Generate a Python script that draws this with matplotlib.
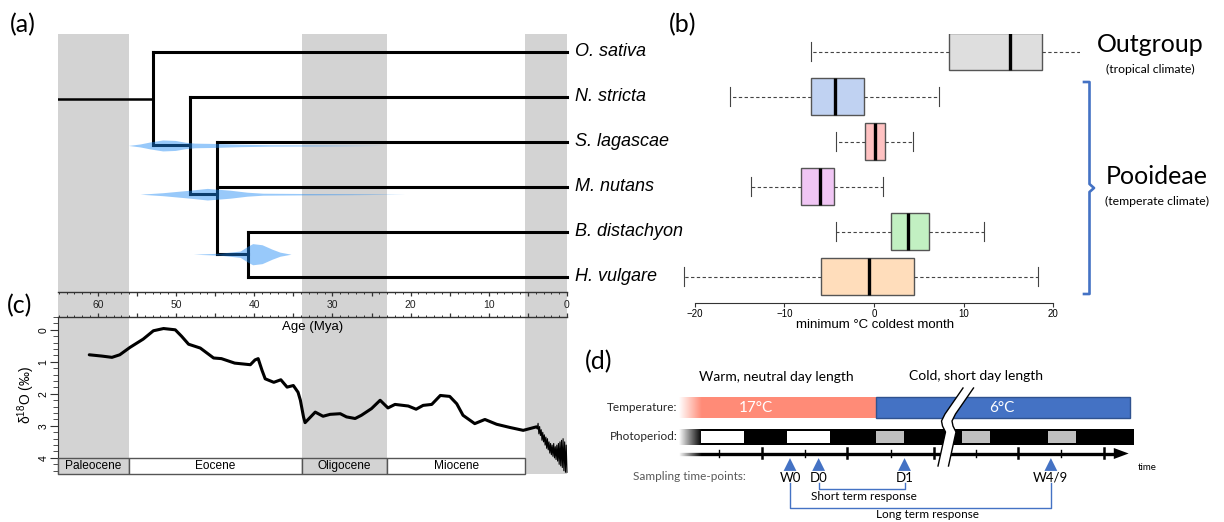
import numpy as np
import matplotlib
matplotlib.use("Agg")
import matplotlib.pyplot as plt
from matplotlib.patches import Rectangle, Polygon

plt.rcParams['font.family'] = ['Liberation Sans', 'DejaVu Sans']

# ======================= DATA =======================
species = ["O. sativa", "N. stricta", "S. lagascae", "M. nutans", "B. distachyon", "H. vulgare"]

# tree: internal node -> (age Mya, children)
tree = {
    "root": (53.0, ["O. sativa", "n1"]),
    "n1": (48.2, ["N. stricta", "n2"]),
    "n2": (44.8, ["S. lagascae", "M. nutans", "n3"]),
    "n3": (40.8, ["B. distachyon", "H. vulgare"]),
}
root_origin_age = 65.1

# node-age posterior densities (age Mya, half width in tip-row units)
dens_n1_age = [56.1, 54.6, 53.3, 51.7, 50.1, 48.8, 47.6, 45.0, 41.8, 38.0, 31.6, 23.5]
dens_n1_hw = [0.0, 0.033, 0.078, 0.122, 0.111, 0.071, 0.051, 0.044, 0.027, 0.016, 0.011, 0.0]
dens_n2_age = [54.6, 51.7, 48.2, 46.0, 43.1, 40.9, 38.9, 34.1, 27.7, 20.7]
dens_n2_hw = [0.0, 0.033, 0.089, 0.129, 0.089, 0.044, 0.022, 0.016, 0.011, 0.0]
dens_n3_age = [47.8, 44.4, 41.8, 40.8, 40.2, 39.0, 37.7, 36.7, 35.3]
dens_n3_hw = [0.0, 0.022, 0.07, 0.18, 0.235, 0.21, 0.11, 0.045, 0.0]

# geological epochs
epochs = ["Paleocene", "Eocene", "Oligocene", "Miocene"]
epoch_start = [65.1, 56.0, 33.9, 23.03]
epoch_end = [56.0, 33.9, 23.03, 5.33]
epoch_shaded = [True, False, True, False]
grey_bands = [(65.1, 56.0), (33.9, 23.03), (5.33, 0.0)]
ruler_labels = [60, 50, 40, 30, 20, 10, 0]

# benthic delta 18O curve (age Mya, permil)
d18O_age = [61.1, 59.5, 58.2, 57.2, 55.9, 54.2, 52.9, 51.6, 50.1, 49.3, 48.4, 46.9,
            45.2, 44.2, 42.5, 40.5, 39.9, 39.5, 39.0, 38.6, 37.5, 36.6, 35.8, 35.0,
            34.4, 34.1, 33.7, 33.5, 32.2, 31.2, 30.3, 29.0, 28.2, 27.1, 26.3, 25.0,
            23.9, 22.9, 22.0, 20.3, 19.3, 18.4, 17.3, 16.2, 15.0, 14.1, 13.3, 11.8,
            10.5, 9.0, 7.3, 5.6, 3.9]
d18O_val = [0.78, 0.82, 0.86, 0.78, 0.55, 0.29, 0.03, -0.04, 0.0, 0.2, 0.45, 0.57,
            0.88, 0.9, 1.04, 1.09, 0.94, 0.9, 1.27, 1.53, 1.64, 1.56, 1.79, 1.74,
            1.95, 2.2, 2.72, 2.9, 2.57, 2.7, 2.64, 2.62, 2.72, 2.77, 2.67, 2.46,
            2.2, 2.44, 2.33, 2.38, 2.48, 2.36, 2.33, 2.05, 2.08, 2.31, 2.67, 2.93,
            2.8, 2.95, 3.05, 3.14, 3.03]
# glacial cycles (last ~4 Myr)
pleist_age = [3.9, 3.8, 3.7, 3.6, 3.5, 3.4, 3.3, 3.2, 3.1, 3.0, 2.9, 2.8, 2.7, 2.6,
              2.5, 2.4, 2.3, 2.2, 2.1, 2.0, 1.9, 1.8, 1.7, 1.6, 1.5, 1.4, 1.3, 1.2,
              1.1, 1.0, 0.9, 0.8, 0.7, 0.6, 0.5, 0.4, 0.3, 0.2, 0.1, 0.0]
pleist_val = [3.03, 3.10, 2.92, 3.25, 3.02, 3.30, 3.12, 3.45, 3.20, 3.50, 3.28, 3.60,
              3.35, 3.70, 3.40, 3.75, 3.50, 3.85, 3.55, 3.90, 3.60, 3.95, 3.55, 4.00,
              3.65, 4.05, 3.60, 4.10, 3.55, 4.20, 3.50, 4.25, 3.45, 4.30, 3.40, 4.40,
              3.50, 4.45, 3.60, 4.45]

# climate niche: minimum temperature of coldest month (°C)
box_whislo = [-7.0, -16.0, -4.2, -13.7, -4.2, -21.2]
box_q1 = [8.4, -7.0, -0.96, -8.1, 1.93, -5.9]
box_med = [15.2, -4.4, 0.07, -6.05, 3.84, -0.56]
box_q3 = [18.7, -1.1, 1.26, -4.46, 6.15, 4.46]
box_whishi = [23.6, 7.2, 4.37, 1.04, 12.3, 18.3]
box_colors = ['#DEDEDE', '#C0D2F2', '#FFC2C2', '#F0C6F4', '#C2F0C2', '#FFDDBB']

# experimental design (time in hours)
temp_phases = ["17°C", "6°C"]
temp_start = [0.0, 55.7]
temp_end = [55.7, 127.6]
temp_label_h = [21.8, 91.4]
temp_colors = ['#FF8B77', '#4472C4']
light_start = [6.2, 30.6, 55.7, 80.0, 104.4]
light_len = [12.2, 12.0, 8.0, 8.0, 7.8]
light_colors = ['white', 'white', '#BFBFBF', '#BFBFBF', '#BFBFBF']
tick_hours = [11.4, 23.6, 35.6, 47.6, 60.0, 72.0, 84.0, 96.0, 108.0, 120.1]
sample_names = ["W0", "D0", "D1", "W4/9"]
sample_hours = [31.4, 39.5, 63.8, 105.2]

# ======================= FIGURE =======================
W, H = 1224, 522
fig = plt.figure(figsize=(W / 100, H / 100), dpi=100)


def add_ax(l, t, r, b, z=1):
    ax = fig.add_axes([l / W, 1 - b / H, (r - l) / W, (b - t) / H], zorder=z)
    ax.patch.set_alpha(0)
    return ax


BAND = '#D3D3D3'
AGE_MAX = root_origin_age

# --- background bands (a + c) ---
ax_bg = add_ax(58, 34, 567, 474, z=0)
ax_bg.set_xlim(AGE_MAX, 0)
ax_bg.set_ylim(0, 1)
ax_bg.axis('off')
for a0, a1 in grey_bands:
    ax_bg.axvspan(a0, a1, color=BAND, lw=0)

# --- panel a: tree ---
ax_a = add_ax(58, 34, 567, 292, z=2)
ax_a.set_xlim(AGE_MAX, 0)
ax_a.set_ylim(5 + (292 - 276.7) / 45, (34 - 51.7) / 45)
ax_a.axis('off')
LW = 2.2
tip_y = {s: i for i, s in enumerate(species)}
node_y = {}


def layout(name):
    if name in tip_y:
        return tip_y[name], 0.0
    age, kids = tree[name]
    ys = []
    for k in kids:
        ky, kage = layout(k)
        ax_a.plot([age, kage], [ky, ky], color='k', lw=LW, solid_capstyle='projecting',
                  clip_on=False, zorder=2)
        ys.append(ky)
    ax_a.plot([age, age], [min(ys), max(ys)], color='k', lw=LW,
              solid_capstyle='projecting', zorder=2)
    y = float(np.mean(ys))
    node_y[name] = y
    return y, age


ry, rage = layout("root")
ax_a.plot([root_origin_age, rage], [ry, ry], color='k', lw=1.8, zorder=2)

vcol = (0.111, 0.533, 0.956)
for nm, ages, hws in [("n1", dens_n1_age, dens_n1_hw), ("n2", dens_n2_age, dens_n2_hw),
                      ("n3", dens_n3_age, dens_n3_hw)]:
    y = node_y[nm]
    ax_a.fill_between(ages, y - np.array(hws), y + np.array(hws), color=vcol,
                      alpha=0.45, lw=0, zorder=3)

for i, s in enumerate(species):
    ax_a.text(-1.0, i, s, style='italic', fontsize=13, va='center', ha='left',
              clip_on=False)

# --- ruler ---
ax_r = add_ax(58, 292, 567, 317, z=2)
ax_r.set_xlim(AGE_MAX, 0)
ax_r.set_ylim(0, 1)
ax_r.set_yticks([])
ax_r.spines['left'].set_visible(False)
ax_r.spines['right'].set_visible(False)
for sp in ['top', 'bottom']:
    ax_r.spines[sp].set_linewidth(1.0)
    ax_r.spines[sp].set_color('#333333')
ax_r.set_xticks(np.arange(0, 61, 5))
ax_r.set_xticks(np.arange(0, 66, 1), minor=True)
ax_r.tick_params(axis='x', which='both', direction='in', top=True, bottom=True,
                 labelbottom=False, color='#333333')
ax_r.tick_params(axis='x', which='major', length=3.2, width=0.9)
ax_r.tick_params(axis='x', which='minor', length=1.6, width=0.7)
for a in ruler_labels:
    ax_r.text(a, 0.5, str(a), ha='center', va='center', fontsize=7.5, color='#222222')

# --- panel c ---
ax_c = add_ax(58, 317, 567, 474, z=2)
ax_c.set_xlim(AGE_MAX, 0)
ax_c.set_ylim(4.503, -0.373)
for sp in ['top', 'right', 'bottom']:
    ax_c.spines[sp].set_visible(False)
ax_c.spines['left'].set_color('#333333')
ax_c.set_xticks([])
ax_c.set_yticks([0, 1, 2, 3, 4])
ax_c.set_yticks(np.arange(-0.4, 4.45, 0.2), minor=True)
ax_c.tick_params(axis='y', which='major', length=5.5, direction='out', labelsize=7.5,
                 pad=1.5, color='#333333')
ax_c.tick_params(axis='y', which='minor', length=3.5, direction='out', color='#333333')
for lab in ax_c.get_yticklabels():
    lab.set_rotation(90)
    lab.set_va('center')
ax_c.set_ylabel(r'$\mathregular{\delta^{18}O}$ (‰)', fontsize=10, labelpad=1)
ax_c.plot(d18O_age, d18O_val, color='k', lw=2.2, solid_joinstyle='round',
          solid_capstyle='round')
ax_c.plot(pleist_age, pleist_val, color='k', lw=0.8, clip_on=False)
for nm, s0, s1, sh in zip(epochs, epoch_start, epoch_end, epoch_shaded):
    ax_c.add_patch(Rectangle((s0, 4.006), s1 - s0, 4.5 - 4.006,
                             fc=BAND if sh else 'white', ec='#555555', lw=1.0,
                             clip_on=False, zorder=3))
    ax_c.text((s0 + s1) / 2, 4.25, nm, ha='center', va='center', fontsize=8.6, zorder=4)
ax_c.text(32.6, -0.09, 'Age (Mya)', ha='center', va='center', fontsize=9.5)

# --- panel b: boxplots ---
ax_b = add_ax(670, 34, 1080, 303, z=2)
stats = []
for i in range(len(species)):
    stats.append(dict(med=box_med[i], q1=box_q1[i], q3=box_q3[i],
                      whislo=box_whislo[i], whishi=box_whishi[i], label=species[i]))
bp = ax_b.bxp(stats, positions=list(range(len(species))), orientation='horizontal',
              widths=0.815, patch_artist=True, showfliers=False, capwidths=0.42,
              boxprops=dict(edgecolor='#555555', linewidth=1.0),
              whiskerprops=dict(color='#444444', linewidth=0.8, linestyle=(0, (3, 2.2))),
              capprops=dict(color='#444444', linewidth=0.8),
              medianprops=dict(color='black', linewidth=2.4))
for patch, c in zip(bp['boxes'], box_colors):
    patch.set_facecolor(c)
ax_b.set_ylim(5 + (303 - 276.7) / 45, (34 - 51.7) / 45)
ax_b.set_xlim((670 - 874) / 8.97, (1080 - 874) / 8.97)
for sp in ['top', 'right', 'left']:
    ax_b.spines[sp].set_visible(False)
ax_b.spines['bottom'].set_bounds(-20, 20)
ax_b.spines['bottom'].set_color('#333333')
ax_b.set_yticks([])
ax_b.set_xticks([-20, -10, 0, 10, 20])
ax_b.tick_params(axis='x', labelsize=7, length=3, pad=1.5, color='#333333')
ax_b.set_xlabel('minimum °C coldest month', fontsize=9.5, labelpad=-0.5)

# --- overlay: panel letters, group labels ---
ax_o = add_ax(0, 0, W, H, z=6)
ax_o.set_xlim(0, W)
ax_o.set_ylim(H, 0)
ax_o.axis('off')
LF = ['Lato', 'DejaVu Sans']
for s, x, y in [('(a)', 10, 25), ('(b)', 669, 25), ('(c)', 7, 306), ('(d)', 585, 362)]:
    ax_o.text(x, y, s, fontsize=18, family=LF, va='center', ha='left')
ax_o.text(1150, 45, 'Outgroup', fontsize=18, family=LF, ha='center', va='center')
ax_o.text(1150, 69, '(tropical climate)', fontsize=8.8, family=LF, ha='center', va='center')
ax_o.text(1157, 177, 'Pooideae', fontsize=18, family=LF, ha='center', va='center')
ax_o.text(1157, 201, '(temperate climate)', fontsize=8.8, family=LF, ha='center', va='center')
ax_o.plot([1084, 1089.5, 1089.5, 1094, 1089.5, 1089.5, 1084],
          [82, 82, 184, 188, 192, 294, 294], color='#4472C4', lw=1.9,
          solid_joinstyle='round')

# --- panel d: experimental design ---
ax_d = add_ax(590, 340, 1224, 522, z=3)
PXH = 3.535
ax_d.set_xlim((590 - 679) / PXH, (1224 - 679) / PXH)
ax_d.set_ylim(522, 340)
ax_d.axis('off')
for lab, s0, s1, c, lh in zip(temp_phases, temp_start, temp_end, temp_colors, temp_label_h):
    ec = 'none' if c == '#FF8B77' else '#2F528F'
    ax_d.add_patch(Rectangle((s0, 397), s1 - s0, 21, fc=c, ec=ec, lw=1.0, zorder=2))
    ax_d.text(lh, 408, lab, color='white', fontsize=11, family=LF, ha='center',
              va='center', zorder=4)
ax_d.add_patch(Rectangle((0, 429), 128.7, 16, fc='black', ec='none', zorder=2))
for s0, ln, c in zip(light_start, light_len, light_colors):
    ax_d.add_patch(Rectangle((s0, 431), ln, 12, fc=c, ec='none', zorder=3))
ax_d.plot([0, 124], [453.5, 453.5], color='black', lw=2.4, zorder=2,
          solid_capstyle='butt')
ax_d.add_patch(Polygon([(123.0, 448), (127.2, 453.5), (123.0, 459)], closed=True,
                       fc='black', ec='none', zorder=2))
for k, t in enumerate(tick_hours):
    if k % 2 == 1:
        ax_d.plot([t, t], [448, 458], color='black', lw=1.8, zorder=2)
    else:
        ax_d.plot([t, t], [449.5, 457], color='black', lw=1.0, zorder=2)
# left fade
grad = np.ones((1, 60, 4))
grad[0, :, 3] = np.linspace(1, 0, 60)
ax_d.imshow(grad, extent=(0, 6.5, 461, 395), aspect='auto', zorder=5,
            interpolation='bilinear')
# axis break
lx = np.array([963, 945, 941.5, 942.5, 945.5, 938]) - 679
ly = np.array([388, 414, 421, 426, 432, 466])
lx = lx / PXH
rx = lx + 10.5 / PXH
ax_d.add_patch(Polygon(list(zip(lx, ly)) + list(zip(rx[::-1], ly[::-1])), closed=True,
                       fc='white', ec='none', zorder=6))
ax_d.plot(lx, ly, color='black', lw=1.0, zorder=7)
ax_d.plot(rx, ly, color='black', lw=1.0, zorder=7)
ax_d.set_xlim((590 - 679) / PXH, (1224 - 679) / PXH)
ax_d.set_ylim(522, 340)

ax_d.text(27.4, 377, 'Warm, neutral day length', fontsize=10, family=LF, ha='center',
          va='center')
ax_d.text(84.0, 376, 'Cold, short day length', fontsize=10, family=LF, ha='center',
          va='center')
ax_d.text(-0.4, 407.5, 'Temperature:', fontsize=8.5, family=LF, ha='right', va='center',
          color='#262626')
ax_d.text(-0.4, 437, 'Photoperiod:', fontsize=8.5, family=LF, ha='right', va='center',
          color='#262626')
ax_d.text(19.0, 477, 'Sampling time-points:', fontsize=8.5, family=LF, ha='right',
          va='center', color='#595959')
ax_d.text(129.8, 467, 'time', fontsize=7, family=LF, ha='left', va='center')
ax_d.scatter(sample_hours, [464.5] * len(sample_hours), marker='^', s=85, c='#4472C4',
             edgecolors='none', zorder=4)
for nm, t in zip(sample_names, sample_hours):
    ax_d.text(t, 477.5, nm, fontsize=9.5, family=LF, ha='center', va='center')
i0, i1 = sample_names.index('D0'), sample_names.index('D1')
ax_d.plot([sample_hours[i0], sample_hours[i0], sample_hours[i1], sample_hours[i1]],
          [483, 489, 489, 483], color='#4472C4', lw=1.0)
ax_d.text(52.3, 496.5, 'Short term response', fontsize=8.5, family=LF, ha='center',
          va='center')
j0, j1 = sample_names.index('W0'), sample_names.index('W4/9')
ax_d.plot([sample_hours[j0], sample_hours[j0], sample_hours[j1], sample_hours[j1]],
          [483, 507.5, 507.5, 483], color='#4472C4', lw=1.0)
ax_d.text(70.3, 515, 'Long term response', fontsize=8.5, family=LF, ha='center',
          va='center')

fig.savefig('out.png', dpi=100)
